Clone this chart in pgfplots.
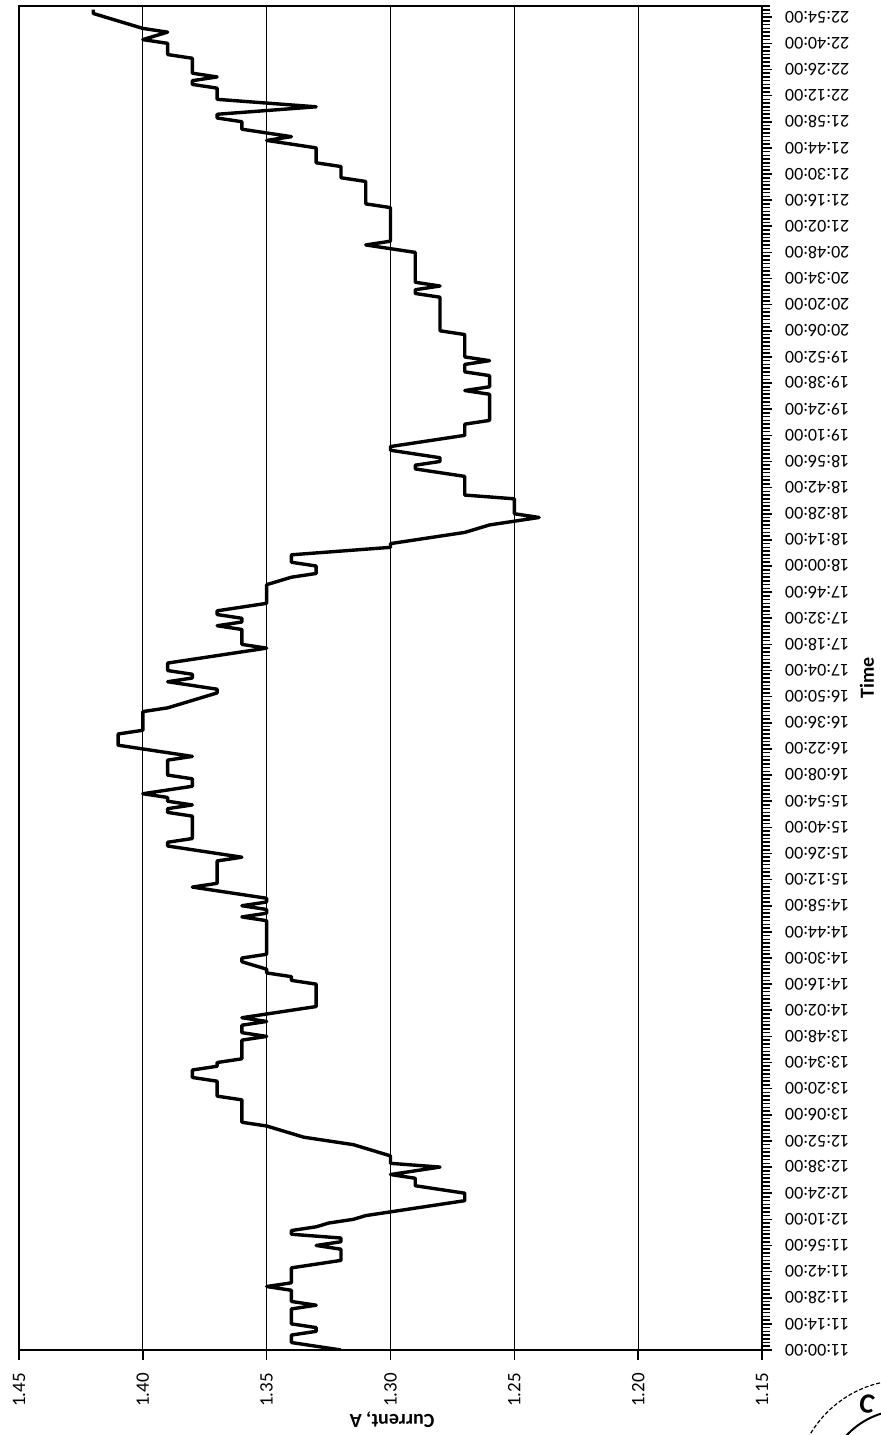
\documentclass[border=0pt]{standalone}
\usepackage{fontspec}
\setmainfont{Carlito}
\usepackage{pgfplots}
\pgfplotsset{compat=1.18}
\usepackage{pgfplotstable}
\pgfplotstableread{
t c
0 1.32
2 1.33
4 1.34
6 1.34
8 1.34
10 1.33
12 1.33
14 1.34
16 1.34
18 1.34
20 1.34
22 1.34
24 1.33
26 1.34
28 1.34
30 1.34
32 1.34
34 1.35
36 1.34
38 1.34
40 1.34
42 1.34
44 1.34
46 1.33
48 1.32
50 1.32
52 1.32
54 1.32
56 1.33
58 1.32
60 1.32
62 1.34
64 1.34
66 1.33
68 1.325
70 1.315
72 1.31
74 1.30
76 1.29
78 1.28
80 1.27
82 1.27
84 1.27
86 1.28
88 1.29
90 1.29
92 1.29
94 1.30
96 1.29
98 1.28
100 1.30
102 1.30
104 1.30
106 1.305
108 1.31
110 1.315
112 1.325
114 1.335
116 1.34
118 1.345
120 1.35
122 1.36
124 1.36
126 1.36
128 1.36
130 1.36
132 1.36
134 1.36
136 1.37
138 1.37
140 1.37
142 1.37
144 1.37
146 1.38
148 1.38
150 1.38
152 1.37
154 1.37
156 1.36
158 1.36
160 1.36
162 1.36
164 1.36
166 1.36
168 1.35
170 1.36
172 1.36
174 1.36
176 1.35
178 1.36
180 1.35
182 1.34
184 1.33
186 1.33
188 1.33
190 1.33
192 1.33
194 1.33
196 1.33
198 1.34
200 1.34
202 1.35
204 1.35
206 1.355
208 1.36
210 1.36
212 1.35
214 1.35
216 1.35
218 1.35
220 1.35
222 1.35
224 1.35
226 1.35
228 1.35
230 1.35
232 1.36
234 1.35
236 1.35
238 1.36
240 1.35
242 1.35
244 1.36
246 1.37
248 1.38
250 1.37
252 1.37
254 1.37
256 1.37
258 1.37
260 1.37
262 1.37
264 1.36
266 1.37
268 1.38
270 1.39
272 1.39
274 1.38
276 1.38
278 1.38
280 1.38
282 1.38
284 1.38
286 1.38
288 1.39
290 1.39
292 1.38
294 1.39
296 1.39
298 1.40
300 1.39
302 1.38
304 1.38
306 1.38
308 1.39
310 1.39
312 1.39
314 1.39
316 1.39
318 1.38
320 1.39
322 1.40
324 1.41
326 1.41
328 1.41
330 1.41
332 1.40
334 1.40
336 1.40
338 1.40
340 1.40
342 1.40
344 1.39
346 1.385
348 1.38
350 1.375
352 1.37
354 1.37
356 1.38
358 1.39
360 1.38
362 1.38
364 1.39
366 1.39
368 1.39
370 1.38
372 1.37
374 1.36
376 1.35
378 1.36
380 1.36
382 1.36
384 1.36
386 1.36
388 1.37
390 1.36
392 1.36
394 1.37
396 1.37
398 1.36
400 1.35
402 1.35
404 1.35
406 1.35
408 1.35
410 1.35
412 1.345
414 1.34
416 1.33
418 1.33
420 1.33
422 1.34
424 1.34
426 1.34
428 1.32
430 1.30
432 1.30
434 1.29
436 1.28
438 1.27
440 1.265
442 1.26
444 1.25
446 1.24
448 1.25
450 1.25
452 1.25
454 1.25
456 1.25
458 1.27
460 1.27
462 1.27
464 1.27
466 1.27
468 1.27
470 1.28
472 1.29
474 1.29
476 1.28
478 1.28
480 1.29
482 1.30
484 1.30
486 1.29
488 1.28
490 1.27
492 1.27
494 1.27
496 1.27
498 1.26
500 1.26
502 1.26
504 1.26
506 1.26
508 1.26
510 1.26
512 1.26
514 1.27
516 1.26
518 1.26
520 1.26
522 1.26
524 1.27
526 1.27
528 1.27
530 1.26
532 1.27
534 1.27
536 1.27
538 1.27
540 1.27
542 1.27
544 1.27
546 1.28
548 1.28
550 1.28
552 1.28
554 1.28
556 1.28
558 1.28
560 1.28
562 1.28
564 1.28
566 1.29
568 1.29
570 1.28
572 1.29
574 1.29
576 1.29
578 1.29
580 1.29
582 1.29
584 1.29
586 1.29
588 1.29
590 1.30
592 1.31
594 1.30
596 1.30
598 1.30
600 1.30
602 1.30
604 1.30
606 1.30
608 1.30
610 1.30
612 1.30
614 1.31
616 1.31
618 1.31
620 1.31
622 1.31
624 1.31
626 1.31
628 1.32
630 1.32
632 1.32
634 1.32
636 1.33
638 1.33
640 1.33
642 1.33
644 1.33
646 1.34
648 1.35
650 1.34
652 1.35
654 1.36
656 1.36
658 1.36
660 1.37
662 1.37
664 1.35
666 1.33
668 1.35
670 1.37
672 1.37
674 1.37
676 1.37
678 1.38
680 1.38
682 1.37
684 1.38
686 1.38
688 1.38
690 1.38
692 1.38
694 1.39
696 1.39
698 1.39
700 1.39
702 1.40
704 1.395
706 1.39
708 1.40
710 1.405
712 1.41
714 1.415
716 1.42
718 1.42
}\datatable

\begin{document}
\begin{tikzpicture}
\path[use as bounding box] (-9.5pt,-42.5pt) rectangle (431pt,675pt);
\begin{axis}[
  at={(0pt,0pt)}, anchor=south west,
  scale only axis, width=371.5pt, height=672pt,
  xmin=1.15, xmax=1.45, x dir=reverse,
  ymin=0, ymax=720,
  xtick={1.15,1.2,1.25,1.3,1.35,1.4,1.45},
  xticklabel style={/pgf/number format/.cd, fixed, fixed zerofill, precision=2, assume math mode=true, /tikz/.cd,
     yshift=-3pt, rotate=90, anchor=east, font=\fontsize{9.5}{11}\selectfont},
  xmajorgrids, major grid style={black, line width=0.5pt},
  ytick={0,14,...,714},
  minor ytick={0,2,...,720},
  yticklabels={11:00:00,11:14:00,11:28:00,11:42:00,11:56:00,12:10:00,12:24:00,12:38:00,12:52:00,13:06:00,13:20:00,13:34:00,13:48:00,14:02:00,14:16:00,14:30:00,14:44:00,14:58:00,15:12:00,15:26:00,15:40:00,15:54:00,16:08:00,16:22:00,16:36:00,16:50:00,17:04:00,17:18:00,17:32:00,17:46:00,18:00:00,18:14:00,18:28:00,18:42:00,18:56:00,19:10:00,19:24:00,19:38:00,19:52:00,20:06:00,20:20:00,20:34:00,20:48:00,21:02:00,21:16:00,21:30:00,21:44:00,21:58:00,22:12:00,22:26:00,22:40:00,22:54:00},
  ytick pos=right, yticklabel pos=right, xtick pos=left,
  tick align=outside, major tick length=5pt, minor tick length=4pt,
  tick style={black, line width=0.8pt},
  yticklabel style={xshift=3pt, rotate=180, anchor=east, font=\fontsize{9}{11}\selectfont},
  axis line style={black, line width=0.8pt},
]
\addplot[black, line width=1.7pt, line join=round] table[x=c,y=t]{\datatable};
\end{axis}
\node[rotate=180, font=\bfseries\fontsize{10}{12}\selectfont] at (186.5pt,-35pt) {Current, A};
\node[rotate=90, font=\bfseries\fontsize{10}{12}\selectfont] at (424pt,336pt) {Time};
\draw[black, line width=0.6pt, dash pattern=on 2pt off 1pt] (443pt,-70pt) circle (55pt);
\draw[black, line width=1pt] (443pt,-70pt) circle (40pt);
\node[rotate=-10, font=\bfseries\fontsize{14}{16}\selectfont] at (424pt,-27pt) {C};
\end{tikzpicture}
\end{document}
